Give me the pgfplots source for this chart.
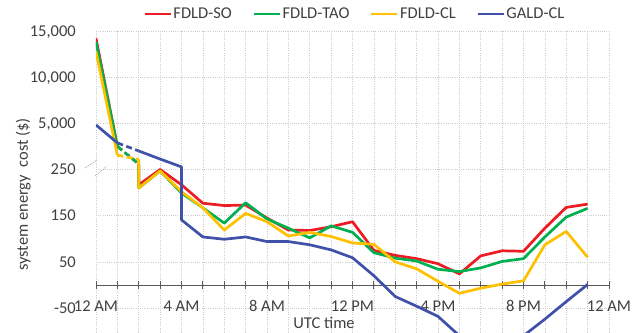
\documentclass[border=0pt]{standalone}
\usepackage{pgfplots}
\pgfplotsset{compat=1.18}
\usepackage{fontspec}
\setmainfont{Carlito}
\definecolor{txt}{RGB}{64,64,64}
\definecolor{axgray}{RGB}{89,89,89}
\definecolor{gridc}{RGB}{205,205,205}
\definecolor{cred}{RGB}{237,28,36}
\definecolor{cgreen}{RGB}{0,176,80}
\definecolor{cyellow}{RGB}{255,192,0}
\definecolor{cblue}{RGB}{63,81,168}
\newcommand{\cf}{\fontsize{16.5bp}{19bp}\selectfont}
% Broken y scale: below 250 the plotted value is the cost itself;
% 350 = 5,000, 450 = 10,000, 550 = 15,000 (50 $ per unit above 5,000);
% values between 250 and 350 lie in the break.
\begin{document}
\begin{tikzpicture}
\begin{axis}[
  scale only axis, width=513bp, height=302bp,
  xmin=0, xmax=24, ymin=-104, ymax=550,
  axis x line=middle, axis y line=left,
  hide obscured x ticks=false,
  every inner x axis line/.append style={-},
  x axis line style={-, color=axgray, line width=0.9bp},
  y axis line style={draw=none},
  xtick={0,1,...,24},
  xticklabels={12 AM,,,,4 AM,,,,8 AM,,,,12 PM,,,,4 PM,,,,8 PM,,,,12 AM},
  ytick={-50,50,150,250,350,450,550},
  yticklabels={-50,50,150,250,{5,000},{10,000},{15,000}},
  grid=major,
  major grid style={color=gridc, line width=0.7bp, dash pattern=on 1bp off 1.2bp},
  xtick align=center, major tick length=8bp,
  x tick style={color=axgray, line width=0.9bp},
  y tick style={draw=none},
  tick label style={font=\cf, text=txt},
  yticklabel style={anchor=base east, inner sep=0pt, xshift=-16bp, yshift=-5.2bp},
  xticklabel style={anchor=base, inner sep=0pt, yshift=-22.5bp},
  xlabel={UTC time},
  xlabel style={font=\cf, text=txt, at={(axis description cs:0.4444,0)}, anchor=base, yshift=4.7bp},
  ylabel={system energy~~cost (\$)},
  ylabel style={font=\cf, text=txt, at={(axis description cs:-0.1326,0.4586)}, anchor=base},
  legend columns=4,
  legend style={at={(axis description cs:0.504,1)}, anchor=center, yshift=17bp,
    draw=none, fill=none, font=\cf, text=txt,
    nodes={inner xsep=1.5bp, inner ysep=1bp},
    /tikz/every even column/.append style={column sep=19bp}},
  legend image code/.code={\draw[#1, solid] (0bp,0bp) -- (26bp,0bp);},
  every axis plot/.append style={line width=2.7bp, line join=round},
]
% FDLD-SO
\addplot[cred, forget plot] coordinates {(0,534) (1,300)};
\addplot[cred, forget plot, dash pattern=on 6bp off 3.5bp] coordinates {(1,300) (2,262)};
\addplot[cred] coordinates {(2,262) (2,217) (3,250) (4,217) (5,177) (6,172) (7,173) (8,145) (9,119) (10,118) (11,126) (12,137) (13,75) (14,64) (15,57) (16,46) (17,24) (18,63) (19,74) (20,73) (21,123) (22,168) (23,175)};
\addlegendentry{FDLD-SO}
% FDLD-TAO
\addplot[cgreen, forget plot] coordinates {(0,527) (1,300)};
\addplot[cgreen, forget plot, dash pattern=on 6bp off 3.5bp] coordinates {(1,300) (2,262)};
\addplot[cgreen] coordinates {(2,262) (2,210) (3,247) (4,199) (5,167) (6,134) (7,178) (8,143) (9,123) (10,102) (11,128) (12,114) (13,70) (14,58) (15,52) (16,34) (17,29) (18,37) (19,51) (20,57) (21,104) (22,147) (23,166)};
\addlegendentry{FDLD-TAO}
% FDLD-CL
\addplot[cyellow, forget plot] coordinates {(0,505) (1,281)};
\addplot[cyellow, forget plot, dash pattern=on 6bp off 3.5bp] coordinates {(1,281) (2,272)};
\addplot[cyellow] coordinates {(2,272) (2,210) (3,247) (4,202) (5,167) (6,119) (7,155) (8,137) (9,106) (10,114) (11,105) (12,91) (13,88) (14,50) (15,35) (16,8) (17,-18) (18,-7) (19,2) (20,9) (21,87) (22,116) (23,60)};
\addlegendentry{FDLD-CL}
% GALD-CL
\addplot[cblue, forget plot] coordinates {(0,346.6) (1,307.7)};
\addplot[cblue, forget plot, dash pattern=on 6bp off 3.5bp] coordinates {(1,307.7) (2,290.2)};
\addplot[cblue] coordinates {(2,290.2) (3,272.7) (4,255.7) (4,141) (5,104) (6,99) (7,104) (8,94) (9,94) (10,87) (11,76) (12,59) (13,20) (14,-25) (15,-46) (16,-68) (17,-110) (18,-115) (19,-112) (20,-110) (21,-74) (22,-36) (23,1)};
\addlegendentry{GALD-CL}
\end{axis}
% axis-break marks
\draw[color=gray!70, line width=0.7bp, dash pattern=on 1bp off 1bp] (-11bp,165bp) -- (1bp,173bp);
\draw[color=gray!70, line width=0.7bp, dash pattern=on 1bp off 1bp] (-1bp,157bp) -- (11bp,167bp);
\pgfresetboundingbox
\path (-96bp,0bp) rectangle (546bp,333bp);
\end{tikzpicture}
\end{document}
